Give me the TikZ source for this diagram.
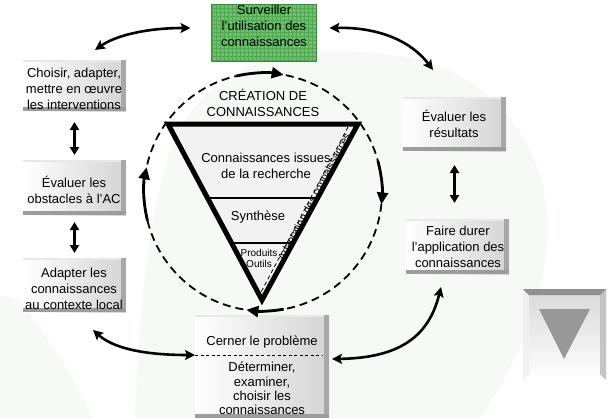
\documentclass[tikz,border=0pt]{standalone}
\usepackage{fontspec}
\setmainfont{Liberation Sans}
\usetikzlibrary{arrows.meta}
\definecolor{bggreen}{HTML}{F5FAF4}
\definecolor{gface}{HTML}{D4D4D4}
\definecolor{gstrip}{HTML}{A8A8A8}
\definecolor{gbot}{HTML}{9C9C9C}
\definecolor{gside}{HTML}{C4C4C4}
\definecolor{grn}{HTML}{6CBF6C}
\definecolor{grnline}{HTML}{52A852}
\definecolor{grnedge}{HTML}{3A8A3A}
\definecolor{trigray}{HTML}{989898}
\definecolor{trifill}{HTML}{F2F2F2}
\tikzset{
  txt/.style={font=\fontsize{13}{16}\selectfont, align=center, inner sep=0pt},
  bevelbox/.style={rectangle, inner sep=0pt, outer sep=0pt, left color=white, right color=gface,
    path picture={
      \fill[gray!18] (path picture bounding box.north west) rectangle ([yshift=-1.5pt]path picture bounding box.north east);
      \fill[gstrip] ([xshift=-5pt]path picture bounding box.north east) rectangle (path picture bounding box.south east);
      \fill[gbot] (path picture bounding box.south west) rectangle ([yshift=4pt]path picture bounding box.south east);
    }},
  greenbox/.style={rectangle, inner sep=0pt, outer sep=0pt, fill=grn, draw=grnedge, line width=1pt,
    path picture={
      \draw[grnline, line width=0.5pt, step=4pt] ([xshift=-2pt,yshift=-2pt]path picture bounding box.south west) grid (path picture bounding box.north east);
    }},
  dblarrow/.style={line width=2.6pt, arrows={Stealth[length=10pt,width=10pt,inset=2pt]-Stealth[length=10pt,width=10pt,inset=2pt]}},
  vdbl/.style={line width=2.2pt, arrows={Triangle[length=8pt,width=9pt]-Triangle[length=8pt,width=9pt]}},
  circarrow/.style={line width=2.8pt, -{Triangle[length=12pt,width=11pt]}},
}
\begin{document}
\begin{tikzpicture}[x=1pt,y=-1pt]
\useasboundingbox (0,0) rectangle (611,418);
\fill[white] (0,0) rectangle (611,418);
% faint background
\fill[bggreen] (135,418) .. controls (140,300) and (150,180) .. (185,120) .. controls (230,50) and (330,40) .. (420,60) .. controls (510,85) and (560,170) .. (545,260) .. controls (535,330) and (505,380) .. (480,418) -- cycle;
\fill[bggreen] (0,295) -- (20,300) .. controls (50,340) and (75,380) .. (92,418) -- (0,418) -- cycle;

% boxes
\node[greenbox, minimum width=105pt, minimum height=57pt] (sv) at (264,32.5) {};
\node[txt] (tsv) at (264,26) {Surveiller\\l’utilisation des\\connaissances};

\node[bevelbox, minimum width=103pt, minimum height=51pt] (c1) at (74.5,85.5) {};
\node[txt] (tc1) at (74,89) {Choisir, adapter,\\mettre en œuvre\\les interventions};
\node[bevelbox, minimum width=103pt, minimum height=55pt] (c2) at (74.5,187.5) {};
\node[txt] (tc2) at (74,190) {Évaluer les\\obstacles à l’AC};
\node[bevelbox, minimum width=103pt, minimum height=54pt] (c3) at (74.5,285) {};
\node[txt] (tc3) at (74,289) {Adapter les\\connaissances\\au contexte local};

\node[bevelbox, minimum width=103pt, minimum height=54pt] (r1) at (454.5,124) {};
\node[txt] (tr1) at (454,124) {Évaluer les\\résultats};
\node[bevelbox, minimum width=103pt, minimum height=55pt] (r2) at (457.5,246.5) {};
\node[txt] (tr2) at (458,247) {Faire durer\\l’application des\\connaissances};

\node[bevelbox, minimum width=134pt, minimum height=103pt] (cp) at (262,366.5) {};
\draw[line width=0.8pt, dash pattern=on 3pt off 2.5pt] (cp.west |- 0,355) -- ([xshift=-6pt]cp.east |- 0,355);
\node[txt] (tcp1) at (262,342) {Cerner le problème};
\node[txt, font=\fontsize{13}{14.3}\selectfont] (tcp2) at (262,388.5) {Déterminer,\\examiner,\\choisir les\\connaissances};

% grey box bottom right
\node[rectangle, inner sep=0pt, outer sep=0pt, minimum width=83pt, minimum height=91pt, top color=gface!90, bottom color=white] (gb) at (564.5,334.5) {};
\fill[gray!12] (gb.north west) -- ++(6,6) -- ([xshift=6pt,yshift=6pt]gb.south west) -- (gb.south west) -- cycle;
\fill[gside] (gb.north east) -- (gb.south east) -- ++(-6,-6) -- ([xshift=-6pt,yshift=-6pt]gb.north east) -- cycle;
\fill[trigray!95!black] (gb.north west) -- (gb.north east) -- ++(-6,6) -- ([xshift=6pt,yshift=-6pt]gb.north west) -- cycle;
\fill[trigray] (539,309) -- (590,309) -- (564,359) -- cycle;

% central triangle
\fill[trifill] (168,124) -- (358,124) -- (262,300) -- cycle;
\draw[line width=1.5pt] (205,198) -- (320,198);
\draw[line width=1.5pt] (229,243) -- (295,243);
\draw[line width=0.8pt, dash pattern=on 4pt off 3pt] (348,127) -- (259,296);
\draw[line width=5pt, line join=miter] (168,124) -- (358,124) -- (262,300) -- cycle;

\node[txt] (tcr) at (263,103) {CRÉATION DE\\CONNAISSANCES};
\node[txt] (tki) at (266,165.5) {Connaissances issues\\de la recherche};
\node[txt] (tsy) at (258,217) {Synthèse};
\node[txt, font=\fontsize{10}{11}\selectfont] (tpo) at (259,258.5) {Produits\\Outils};
\node[font=\fontsize{10.5}{12}\selectfont, inner sep=0pt, rotate=62] (tad) at (315,197) {Adaptation des connaissances};

% dashed cycle
\node[circle, draw, line width=1.8pt, dash pattern=on 8pt off 5pt, inner sep=0pt, outer sep=0pt, minimum size=238pt] (cyc) at (263,192) {};
\draw[circarrow] (cyc.center) ++(-103:119) arc[start angle=-103, end angle=-80, radius=119];
\draw[circarrow] (cyc.center) ++(-15:119) arc[start angle=-15, end angle=6, radius=119];
\draw[circarrow] (cyc.center) ++(80:119) arc[start angle=80, end angle=98, radius=119];
\draw[circarrow] (cyc.center) ++(166:119) arc[start angle=166, end angle=192, radius=119];

% vertical double arrows
\draw[vdbl, shorten <=11pt, shorten >=5pt] (c1.south) -- (c2.north);
\draw[vdbl, shorten <=7pt, shorten >=5pt] (c2.south) -- (c3.north);
\draw[vdbl, shorten <=14pt, shorten >=16pt] (r1.south) -- (r1.south |- r2.north);

% curved connectors
\coordinate (a1s) at (95,50);
\coordinate (a1e) at ([xshift=-21pt]sv.west |- 0,28);
\draw[dblarrow] (a1s) .. controls (115,36) and (145,28) .. (a1e);
\coordinate (a2s) at ([xshift=13pt]sv.east |- 0,28);
\coordinate (a2e) at (433,70);
\draw[dblarrow] (a2s) .. controls (380,27) and (412,42) .. (a2e);
\coordinate (a3s) at (93,330);
\coordinate (a3e) at (cp.west |- 0,355);
\draw[dblarrow] (a3s) .. controls (112,347) and (140,355) .. (a3e);
\coordinate (a4s) at ([xshift=3pt]cp.east |- 0,359);
\coordinate (a4e) at (441,287);
\draw[dblarrow] (a4s) .. controls (395,358) and (428,340) .. (a4e);
\end{tikzpicture}
\end{document}
